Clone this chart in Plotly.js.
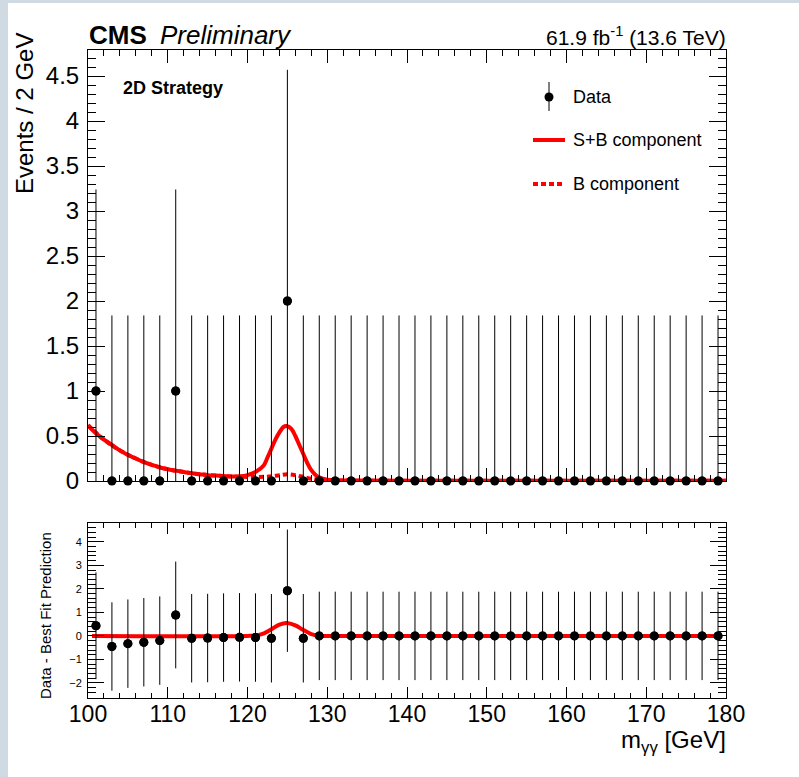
<!DOCTYPE html>
<html>
<head>
<meta charset="utf-8">
<script src="https://cdn.plot.ly/plotly-3.0.1.min.js"></script>
<style>
  html, body { margin:0; padding:0; background:#d0dae3; width:799px; height:777px; overflow:hidden; }
  #chart { position:absolute; left:8px; top:3px; width:791px; height:774px; background:#fff; }
</style>
</head>
<body>
<div id="chart"></div>
<script>
// ---- Data ----
const binCenters = [101,103,105,107,109,111,113,115,117,119,121,123,125,127,129,131,133,135,137,139,
                    141,143,145,147,149,151,153,155,157,159,161,163,165,167,169,171,173,175,177,179];
const eventCounts = [1,0,0,0,0,1,0,0,0,0,0,0,2,0,0,0,0,0,0,0,
                     0,0,0,0,0,0,0,0,0,0,0,0,0,0,0,0,0,0,0,0];
const countErrors = [2.24,1.84,1.84,1.84,1.84,2.24,1.84,1.84,1.84,1.84,1.84,1.84,2.57,1.84,1.84,1.84,1.84,1.84,1.84,1.84,
                     1.84,1.84,1.84,1.84,1.84,1.84,1.84,1.84,1.84,1.84,1.84,1.84,1.84,1.84,1.84,1.84,1.84,1.84,1.84,1.84];

const sbMass = [100,101,102,103,104,105,106,107,108,109,110,111,112,113,114,115,116,117,118,119,120,121,122,
                122.5,123,123.5,124,124.5,124.9,125.5,126,126.5,127,127.5,128,128.5,129,
                130,131,133,140,150,160,170,180];
const sbValues = [0.62,0.53,0.46,0.40,0.34,0.29,0.25,0.21,0.18,0.15,0.13,0.115,0.10,0.085,0.075,0.065,0.06,0.055,0.05,0.052,0.065,0.10,0.17,
                  0.26,0.36,0.46,0.54,0.60,0.61,0.58,0.50,0.40,0.30,0.20,0.12,0.07,0.04,
                  0.015,0.008,0.005,0.004,0.003,0.003,0.002,0.002];

const bMass = [100,102,104,106,108,110,112,114,116,118,119,120,121,122,123,124,125,126,127,128,129,130,131,140,150,160,170,180];
const bValues = [0.62,0.46,0.34,0.25,0.18,0.13,0.10,0.075,0.06,0.05,0.048,0.045,0.045,0.047,0.052,0.065,0.075,0.065,0.045,0.025,0.012,0.007,0.005,0.004,0.003,0.003,0.002,0.002];

const residuals = [0.43,-0.45,-0.33,-0.27,-0.20,0.89,-0.10,-0.09,-0.07,-0.06,-0.07,-0.10,1.92,-0.10,0,0,0,0,0,0,
                   0,0,0,0,0,0,0,0,0,0,0,0,0,0,0,0,0,0,0,0];
const residualErrors = [2.27,1.88,1.88,1.88,1.88,2.27,1.88,1.88,1.88,1.88,1.88,1.88,2.60,1.88,1.88,1.88,1.88,1.88,1.88,1.88,
                        1.88,1.88,1.88,1.88,1.88,1.88,1.88,1.88,1.88,1.88,1.88,1.88,1.88,1.88,1.88,1.88,1.88,1.88,1.88,1.88];

const sigMass = [100.5,120,121,122,123,124,124.9,126,127,128,129,130,179.5];
const sigValues = [0,0,0.02,0.10,0.28,0.48,0.55,0.45,0.25,0.08,0.01,0,0];

const xTickVals = [100,110,120,130,140,150,160,170,180];

// ---- Layout helpers (page pixel -> paper coords) ----
const PL = 88, PR = 726, PT = 50, PB = 698;
const X = p => (p - PL) / (PR - PL);
const Y = p => (PB - p) / (PB - PT);

const FONT = 'Liberation Sans, Arial, Helvetica, sans-serif';
const RED = '#ff0000';

const traces = [
  {x: bMass, y: bValues, xaxis:'x', yaxis:'y', mode:'lines', line:{color:RED, width:4, dash:'5px,3px', shape:'spline'}, hoverinfo:'skip'},
  {x: sbMass, y: sbValues, xaxis:'x', yaxis:'y', mode:'lines', line:{color:RED, width:4, shape:'spline'}, hoverinfo:'skip'},
  {x: binCenters, y: eventCounts, xaxis:'x', yaxis:'y', mode:'markers', marker:{size:9, color:'black'},
   error_y:{type:'data', array: countErrors, arrayminus: countErrors, color:'black', thickness:1, width:0}, cliponaxis:true},
  {x: binCenters, y: eventCounts, xaxis:'x', yaxis:'y', mode:'markers', marker:{size:9, color:'black'}, cliponaxis:false},
  {x: sigMass, y: sigValues, xaxis:'x2', yaxis:'y2', mode:'lines', line:{color:RED, width:4, shape:'spline'}, hoverinfo:'skip'},
  {x: binCenters, y: residuals, xaxis:'x2', yaxis:'y2', mode:'markers', marker:{size:9, color:'black'},
   error_y:{type:'data', array: residualErrors, arrayminus: residualErrors, color:'black', thickness:1, width:0}, cliponaxis:true},
  {x: binCenters, y: residuals, xaxis:'x2', yaxis:'y2', mode:'markers', marker:{size:9, color:'black'}, cliponaxis:false}
];

const axisCommon = {
  showline:true, linecolor:'black', linewidth:1, mirror:'ticks', ticks:'inside', tickcolor:'black', tickwidth:1,
  showgrid:false, zeroline:false, fixedrange:true
};

const layout = {
  width: 791, height: 774,
  margin: {l: PL-8, r: 799-PR, t: PT-3, b: 777-PB},
  paper_bgcolor:'white', plot_bgcolor:'white',
  showlegend:false,
  font:{family:FONT, color:'black'},
  xaxis: Object.assign({}, axisCommon, {
    anchor:'y', domain:[0,1], range:[100,180], tickvals: xTickVals, ticklen:13, showticklabels:false,
    minor:{dtick:2, tick0:100, ticklen:6, ticks:'inside', tickcolor:'black', tickwidth:1}
  }),
  yaxis: Object.assign({}, axisCommon, {
    anchor:'x', domain:[Y(481),1], range:[0,4.79], dtick:0.5, tick0:0, ticklen:17,
    tickfont:{size:24, family:FONT}, ticklabelstandoff:3,
    minor:{dtick:0.1, tick0:0, ticklen:8, ticks:'inside', tickcolor:'black', tickwidth:1}
  }),
  xaxis2: Object.assign({}, axisCommon, {
    anchor:'y2', domain:[0,1], range:[100,180], tickvals: xTickVals, ticklen:11,
    tickfont:{size:23, family:FONT}, ticklabelstandoff:-5,
    minor:{dtick:2, tick0:100, ticklen:5, ticks:'inside', tickcolor:'black', tickwidth:1}
  }),
  yaxis2: Object.assign({}, axisCommon, {
    anchor:'x2', domain:[0,Y(523)], range:[-2.64,4.8], dtick:1, tick0:0, ticklen:16,
    tickfont:{size:11, family:FONT}, ticklabelstandoff:3,
    minor:{dtick:0.2, tick0:0, ticklen:8, ticks:'inside', tickcolor:'black', tickwidth:1}
  }),
  annotations: [
    {text:'<b>CMS</b>', x:X(87), y:Y(35), xref:'paper', yref:'paper', xanchor:'left', yanchor:'middle', showarrow:false, font:{size:26, family:FONT}},
    {text:'<i>Preliminary</i>', x:X(158), y:Y(35), xref:'paper', yref:'paper', xanchor:'left', yanchor:'middle', showarrow:false, font:{size:26, family:FONT}},
    {text:'61.9 fb<sup>-1</sup> (13.6 TeV)', x:X(728), y:Y(36), xref:'paper', yref:'paper', xanchor:'right', yanchor:'middle', showarrow:false, font:{size:21, family:FONT}},
    {text:'<b>2D Strategy</b>', x:X(121), y:Y(88), xref:'paper', yref:'paper', xanchor:'left', yanchor:'middle', showarrow:false, font:{size:18, family:FONT}},
    {text:'Data', x:X(571), y:Y(97), xref:'paper', yref:'paper', xanchor:'left', yanchor:'middle', showarrow:false, font:{size:18, family:FONT}},
    {text:'S+B component', x:X(571), y:Y(140), xref:'paper', yref:'paper', xanchor:'left', yanchor:'middle', showarrow:false, font:{size:18, family:FONT}},
    {text:'B component', x:X(571), y:Y(184), xref:'paper', yref:'paper', xanchor:'left', yanchor:'middle', showarrow:false, font:{size:18, family:FONT}},
    {text:'m<sub>γγ</sub> [GeV]', x:X(728), y:Y(741), xref:'paper', yref:'paper', xanchor:'right', yanchor:'middle', showarrow:false, font:{size:24, family:FONT}},
    {text:'Events / 2 GeV', textangle:-90, x:X(24), y:Y(114), xref:'paper', yref:'paper', xanchor:'center', yanchor:'middle', showarrow:false, font:{size:24, family:FONT}},
    {text:'Data - Best Fit Prediction', textangle:-90, x:X(45), y:Y(616), xref:'paper', yref:'paper', xanchor:'center', yanchor:'middle', showarrow:false, font:{size:15, family:FONT}}
  ],
  shapes: [
    {type:'line', xref:'paper', yref:'paper', x0:X(549), x1:X(549), y0:Y(82), y1:Y(111), line:{color:'black', width:1}},
    {type:'circle', xref:'paper', yref:'paper', x0:X(544.5), x1:X(553.5), y0:Y(101.5), y1:Y(92.5), fillcolor:'black', line:{color:'black', width:0}},
    {type:'line', xref:'paper', yref:'paper', x0:X(533), x1:X(565), y0:Y(140), y1:Y(140), line:{color:RED, width:4}},
    {type:'line', xref:'paper', yref:'paper', x0:X(533), x1:X(565), y0:Y(184), y1:Y(184), line:{color:RED, width:4, dash:'5px,3px'}}
  ]
};

Plotly.newPlot('chart', traces, layout, {staticPlot:true, displayModeBar:false});
</script>
</body>
</html>
